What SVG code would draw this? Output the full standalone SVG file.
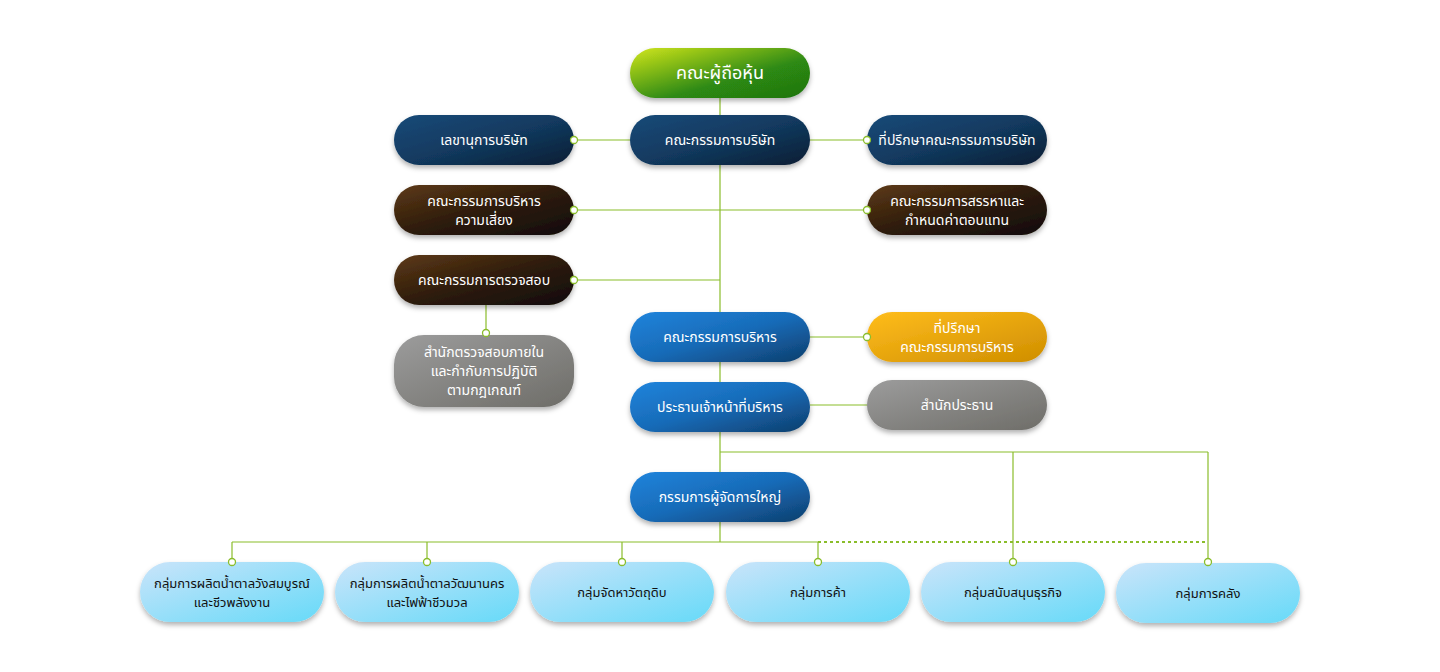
<svg xmlns="http://www.w3.org/2000/svg" width="1440" height="672" viewBox="0 0 1440 672">
<defs>
<linearGradient id="gGreen" x1="0" y1="0" x2="1" y2="1"><stop offset="0" stop-color="#d2e61c"/><stop offset="0.6" stop-color="#2e8a12"/><stop offset="1" stop-color="#1c7410"/></linearGradient>
<linearGradient id="gNavy" x1="0" y1="0" x2="1" y2="1"><stop offset="0" stop-color="#154a78"/><stop offset="0.5" stop-color="#123a60"/><stop offset="1" stop-color="#0b1e33"/></linearGradient>
<linearGradient id="gBrown" x1="0" y1="0" x2="1" y2="1"><stop offset="0" stop-color="#5e3a16"/><stop offset="0.5" stop-color="#2e1c0c"/><stop offset="1" stop-color="#120b06"/></linearGradient>
<linearGradient id="gBlue" x1="0" y1="0" x2="1" y2="1"><stop offset="0" stop-color="#2184dc"/><stop offset="0.5" stop-color="#176bb8"/><stop offset="1" stop-color="#0e3e6c"/></linearGradient>
<linearGradient id="gOrange" x1="0" y1="0" x2="1" y2="1"><stop offset="0" stop-color="#ffbd1c"/><stop offset="1" stop-color="#cf8e00"/></linearGradient>
<linearGradient id="gGray" x1="0" y1="0" x2="1" y2="1"><stop offset="0" stop-color="#9c9c9c"/><stop offset="1" stop-color="#6e6d68"/></linearGradient>
<linearGradient id="gLight" x1="0" y1="0" x2="1" y2="1"><stop offset="0" stop-color="#cae4fa"/><stop offset="1" stop-color="#66daf8"/></linearGradient>
<filter id="sh" x="-10%" y="-20%" width="120%" height="150%"><feDropShadow dx="0" dy="3" stdDeviation="2.5" flood-color="#000" flood-opacity="0.3"/></filter>
</defs>
<style>
.n rect{filter:url(#sh)}
.t{font-family:"Noto Sans Thai","Noto Sans","DejaVu Sans",sans-serif;font-size:14px;fill:#fff;text-anchor:middle}
.d{fill:#111}
.c line{stroke:#8abd2a;stroke-width:1.2;fill:none}
.dots circle{fill:#fff;stroke:#8abd2a;stroke-width:1.3}
</style>
<rect width="1440" height="672" fill="#fff"/>
<g id="connectors" class="c">
<line x1="720" y1="98" x2="720" y2="542"/>
<line x1="574" y1="140" x2="867" y2="140"/>
<line x1="574" y1="210" x2="867" y2="210"/>
<line x1="574" y1="280" x2="720" y2="280"/>
<line x1="486" y1="305" x2="486" y2="333"/>
<line x1="810" y1="337" x2="867" y2="337"/>
<line x1="810" y1="405" x2="867" y2="405"/>
<line x1="720" y1="452" x2="1208" y2="452"/>
<line x1="1013" y1="452" x2="1013" y2="562"/>
<line x1="1208" y1="452" x2="1208" y2="562"/>
<line x1="232" y1="542" x2="818" y2="542"/>
<line x1="818" y1="542" x2="1208" y2="542" stroke-dasharray="3,3" style="stroke-width:2"/>
<line x1="232" y1="542" x2="232" y2="562"/>
<line x1="427" y1="542" x2="427" y2="562"/>
<line x1="622" y1="542" x2="622" y2="562"/>
<line x1="818" y1="542" x2="818" y2="562"/>
</g>
<g id="shareholders" class="n"><rect x="630" y="48" width="180" height="50" rx="25" fill="url(#gGreen)"/><text class="t" x="720" y="79" style="font-size:18px">คณะผู้ถือหุ้น</text></g>
<g id="secretary" class="n"><rect x="394" y="115" width="180" height="50" rx="25" fill="url(#gNavy)"/><text class="t" x="484" y="145">เลขานุการบริษัท</text></g>
<g id="board" class="n"><rect x="630" y="115" width="180" height="50" rx="25" fill="url(#gNavy)"/><text class="t" x="720" y="145">คณะกรรมการบริษัท</text></g>
<g id="board-advisor" class="n"><rect x="867" y="115" width="180" height="50" rx="25" fill="url(#gNavy)"/><text class="t" x="957" y="145">ที่ปรึกษาคณะกรรมการบริษัท</text></g>
<g id="risk" class="n"><rect x="394" y="185" width="180" height="50" rx="25" fill="url(#gBrown)"/><text class="t" x="484" y="206">คณะกรรมการบริหาร</text><text class="t" x="484" y="225">ความเสี่ยง</text></g>
<g id="nomination" class="n"><rect x="867" y="185" width="180" height="50" rx="25" fill="url(#gBrown)"/><text class="t" x="957" y="206">คณะกรรมการสรรหาและ</text><text class="t" x="957" y="225">กำหนดค่าตอบแทน</text></g>
<g id="audit" class="n"><rect x="394" y="255" width="180" height="50" rx="25" fill="url(#gBrown)"/><text class="t" x="484" y="285">คณะกรรมการตรวจสอบ</text></g>
<g id="internal-audit" class="n"><rect x="394" y="335" width="180" height="72" rx="30" fill="url(#gGray)"/><text class="t" x="484" y="357">สำนักตรวจสอบภายใน</text><text class="t" x="484" y="376">และกำกับการปฏิบัติ</text><text class="t" x="484" y="395">ตามกฎเกณฑ์</text></g>
<g id="exec" class="n"><rect x="630" y="312" width="180" height="50" rx="25" fill="url(#gBlue)"/><text class="t" x="720" y="342">คณะกรรมการบริหาร</text></g>
<g id="exec-advisor" class="n"><rect x="867" y="312" width="180" height="50" rx="25" fill="url(#gOrange)"/><text class="t" x="957" y="333">ที่ปรึกษา</text><text class="t" x="957" y="352">คณะกรรมการบริหาร</text></g>
<g id="ceo" class="n"><rect x="630" y="382" width="180" height="50" rx="25" fill="url(#gBlue)"/><text class="t" x="720" y="412">ประธานเจ้าหน้าที่บริหาร</text></g>
<g id="ceo-office" class="n"><rect x="867" y="380" width="180" height="50" rx="25" fill="url(#gGray)"/><text class="t" x="957" y="410">สำนักประธาน</text></g>
<g id="president" class="n"><rect x="630" y="472" width="180" height="50" rx="25" fill="url(#gBlue)"/><text class="t" x="720" y="502">กรรมการผู้จัดการใหญ่</text></g>
<g id="g1" class="n"><rect x="140" y="562" width="184" height="60" rx="30" fill="url(#gLight)"/><text class="t d" x="232" y="588" style="font-size:13px">กลุ่มการผลิตน้ำตาลวังสมบูรณ์</text><text class="t d" x="232" y="607" style="font-size:13px">และชีวพลังงาน</text></g>
<g id="g2" class="n"><rect x="335" y="562" width="184" height="60" rx="30" fill="url(#gLight)"/><text class="t d" x="427" y="588" style="font-size:13px">กลุ่มการผลิตน้ำตาลวัฒนานคร</text><text class="t d" x="427" y="607" style="font-size:13px">และไฟฟ้าชีวมวล</text></g>
<g id="g3" class="n"><rect x="530" y="562" width="184" height="60" rx="30" fill="url(#gLight)"/><text class="t d" x="622" y="597" style="font-size:13px">กลุ่มจัดหาวัตถุดิบ</text></g>
<g id="g4" class="n"><rect x="726" y="562" width="184" height="60" rx="30" fill="url(#gLight)"/><text class="t d" x="818" y="597" style="font-size:13px">กลุ่มการค้า</text></g>
<g id="g5" class="n"><rect x="921" y="562" width="184" height="60" rx="30" fill="url(#gLight)"/><text class="t d" x="1013" y="597" style="font-size:13px">กลุ่มสนับสนุนธุรกิจ</text></g>
<g id="g6" class="n"><rect x="1116" y="563" width="184" height="60" rx="30" fill="url(#gLight)"/><text class="t d" x="1208" y="598" style="font-size:13px">กลุ่มการคลัง</text></g>
<g id="connector-dots" class="dots">
<circle cx="574" cy="140" r="3.5"/><circle cx="867" cy="140" r="3.5"/>
<circle cx="574" cy="210" r="3.5"/><circle cx="867" cy="210" r="3.5"/>
<circle cx="574" cy="280" r="3.5"/><circle cx="486" cy="333" r="3.5"/>
<circle cx="867" cy="337" r="3.5"/>
<circle cx="232" cy="562" r="3.5"/><circle cx="427" cy="562" r="3.5"/><circle cx="622" cy="562" r="3.5"/><circle cx="818" cy="562" r="3.5"/><circle cx="1013" cy="562" r="3.5"/><circle cx="1208" cy="562" r="3.5"/>
</g>
</svg>
